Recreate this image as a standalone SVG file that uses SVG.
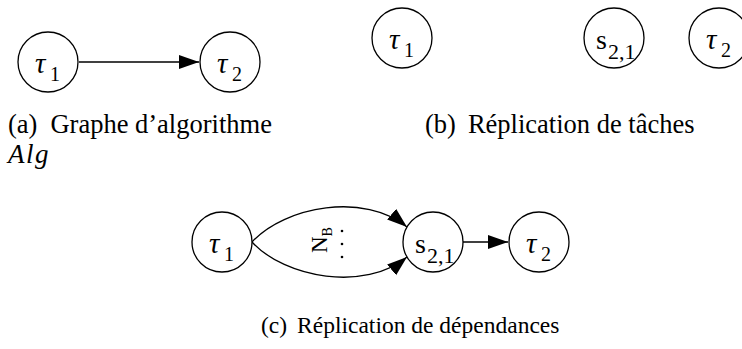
<svg xmlns="http://www.w3.org/2000/svg" width="742" height="349" viewBox="0 0 742 349">
<defs>
<style>
.node{fill:#fff;stroke:#000;stroke-width:1.3}
.edge{fill:none;stroke:#000;stroke-width:1.3}
text{fill:#000}
.tau{font-style:italic;font-size:29px}
.s{font-size:28px}
.sub{font-size:20px}
.subs{font-size:22px}
.capab{font-size:26.5px}
.capc{font-size:23.5px}
.capi{font-style:italic;font-size:27px;letter-spacing:1.5px}
</style>
<marker id="arr" markerUnits="userSpaceOnUse" markerWidth="21" markerHeight="15" refX="20" refY="7" orient="auto">
<path d="M0,0 L20,7 L0,14 z" fill="#000"/>
</marker>
</defs>
<g id="connectors">
<line class="edge" x1="79" y1="62" x2="199" y2="62" marker-end="url(#arr)"/>
<path class="edge" d="M252,242 C285,206 365,192 407,227" marker-end="url(#arr)"/>
<path class="edge" d="M252,242 C285,278 365,292 407,257" marker-end="url(#arr)"/>
<line class="edge" x1="463" y1="242" x2="508" y2="242" marker-end="url(#arr)"/>
</g>
<g font-family="'Liberation Serif', serif">
<g id="a-tau1"><circle class="node" cx="48" cy="62" r="30"/><text class="tau" x="35" y="73">τ</text><text class="sub" x="50" y="81">1</text></g>
<g id="a-tau2"><circle class="node" cx="230" cy="62" r="30"/><text class="tau" x="217" y="73">τ</text><text class="sub" x="232" y="81">2</text></g>
<g id="b-tau1"><circle class="node" cx="402" cy="38" r="30"/><text class="tau" x="389" y="49">τ</text><text class="sub" x="404" y="57">1</text></g>
<g id="b-s21"><circle class="node" cx="614" cy="38" r="30"/><text class="s" x="596" y="49">s</text><text class="subs" x="608" y="59">2,1</text></g>
<g id="b-tau2"><circle class="node" cx="719" cy="38" r="30"/><text class="tau" x="706" y="49">τ</text><text class="sub" x="721" y="57">2</text></g>
<g id="c-tau1"><circle class="node" cx="222" cy="242" r="30"/><text class="tau" x="209" y="253">τ</text><text class="sub" x="224" y="261">1</text></g>
<g id="c-s21"><circle class="node" cx="433" cy="242" r="30"/><text class="s" x="415" y="253">s</text><text class="subs" x="427" y="263">2,1</text></g>
<g id="c-tau2"><circle class="node" cx="539" cy="242" r="30"/><text class="tau" x="526" y="253">τ</text><text class="sub" x="541" y="261">2</text></g>
<g id="nb-label">
<text transform="translate(327,253) rotate(-90)" font-size="23">N<tspan font-size="14" dy="5">B</tspan></text>
<circle cx="342" cy="231" r="1.3"/><circle cx="342" cy="244" r="1.3"/><circle cx="342" cy="257" r="1.3"/>
</g>
<g id="captions">
<text class="capab" x="8" y="133">(a)<tspan dx="13">Graphe d’algorithme</tspan></text>
<text class="capi" x="8" y="163">Alg</text>
<text class="capab" x="425" y="133">(b)<tspan dx="12">Réplication de tâches</tspan></text>
<text class="capc" x="261" y="333">(c)<tspan dx="10">Réplication de dépendances</tspan></text>
</g>
</g>
</svg>
